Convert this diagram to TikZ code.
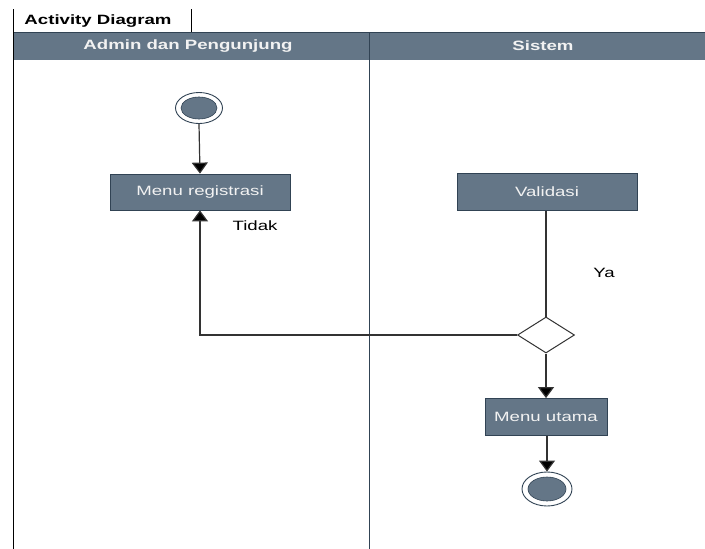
\documentclass[tikz,border=0pt]{standalone}
\usepackage{fontspec}
\setmainfont{Liberation Sans}[FakeStretch=1.38]
\usetikzlibrary{shapes.geometric,arrows.meta}
\definecolor{slate}{HTML}{647687}
\definecolor{slatedark}{HTML}{314354}
\definecolor{lighttext}{HTML}{F2F2F2}
\tikzset{
  lbl/.style={font=\fontsize{13.5}{15}\selectfont, inner sep=0pt},
  hdr/.style={font=\fontsize{13.5}{15}\selectfont\bfseries, text=lighttext, inner sep=0pt},
  act/.style={rectangle, fill=slate, draw=slatedark, line width=0.8pt, text=lighttext,
     font=\fontsize{13.5}{15}\selectfont, minimum height=36pt, inner sep=0pt},
  outerring/.style={ellipse, draw=slatedark, line width=0.9pt, fill=white, inner sep=0pt},
  innerdot/.style={ellipse, fill=slate, draw=slatedark, line width=0.6pt, inner sep=0pt},
  dec/.style={diamond, draw=black!80, line width=1pt, fill=white, inner sep=0pt,
     minimum width=57pt, minimum height=36pt},
  conn/.style={draw=black!80, line width=1.2pt},
  arr/.style={conn, -{Triangle[width=16pt,length=11pt,fill=black]}},
}
\begin{document}
\begin{tikzpicture}[x=1pt,y=-1pt]
\useasboundingbox (0,0) rectangle (705,549);
\clip (0,0) rectangle (705,549);
% swimlane frame
\fill[slate] (13,32) rectangle (720,60);
\draw[slatedark, line width=0.8pt] (13,32) -- (720,32);
\draw[black, line width=1pt] (13,9) -- (13,549);
\draw[black, line width=1pt] (191,9) -- (191,32);
\draw[slatedark, line width=1pt] (369,32) -- (369,549);
\node[lbl, font=\fontsize{13.5}{15}\selectfont\bfseries] (title) at (98,21) {Activity Diagram};
\node[hdr] (lane1) at (188,46) {Admin dan Pengunjung};
\node[hdr] (lane2) at (543,46) {Sistem};
% nodes
\node[outerring, minimum width=47pt, minimum height=31pt] (start) at (199,108) {};
\node[innerdot, minimum width=36pt, minimum height=22pt] (startdot) at (start) {};
\node[act, minimum width=180pt] (reg) at (200,192) {Menu registrasi};
\node[act, minimum width=180pt, minimum height=37pt] (val) at (547,192) {Validasi};
\node[dec] (dc) at (546,335) {};
\node[act, minimum width=122pt, minimum height=37pt] (utama) at (546,417) {Menu utama};
\node[outerring, minimum width=50pt, minimum height=34pt] (end) at (547,489) {};
\node[innerdot, minimum width=38pt, minimum height=24pt] (enddot) at (end) {};
\node[lbl] (tidak) at (255,226) {Tidak};
\node[lbl] (ya) at (604,273) {Ya};
% connectors
\draw[arr] (start.south) -- (reg.north);
\draw[conn] (val.south -| dc.north) -- (dc.north);
\draw[arr] (dc.west) -| (reg.south);
\draw[arr] (dc.south) -- (utama.north -| dc.south);
\draw[arr] (utama.south -| end.north) -- (end.north);
\end{tikzpicture}
\end{document}
